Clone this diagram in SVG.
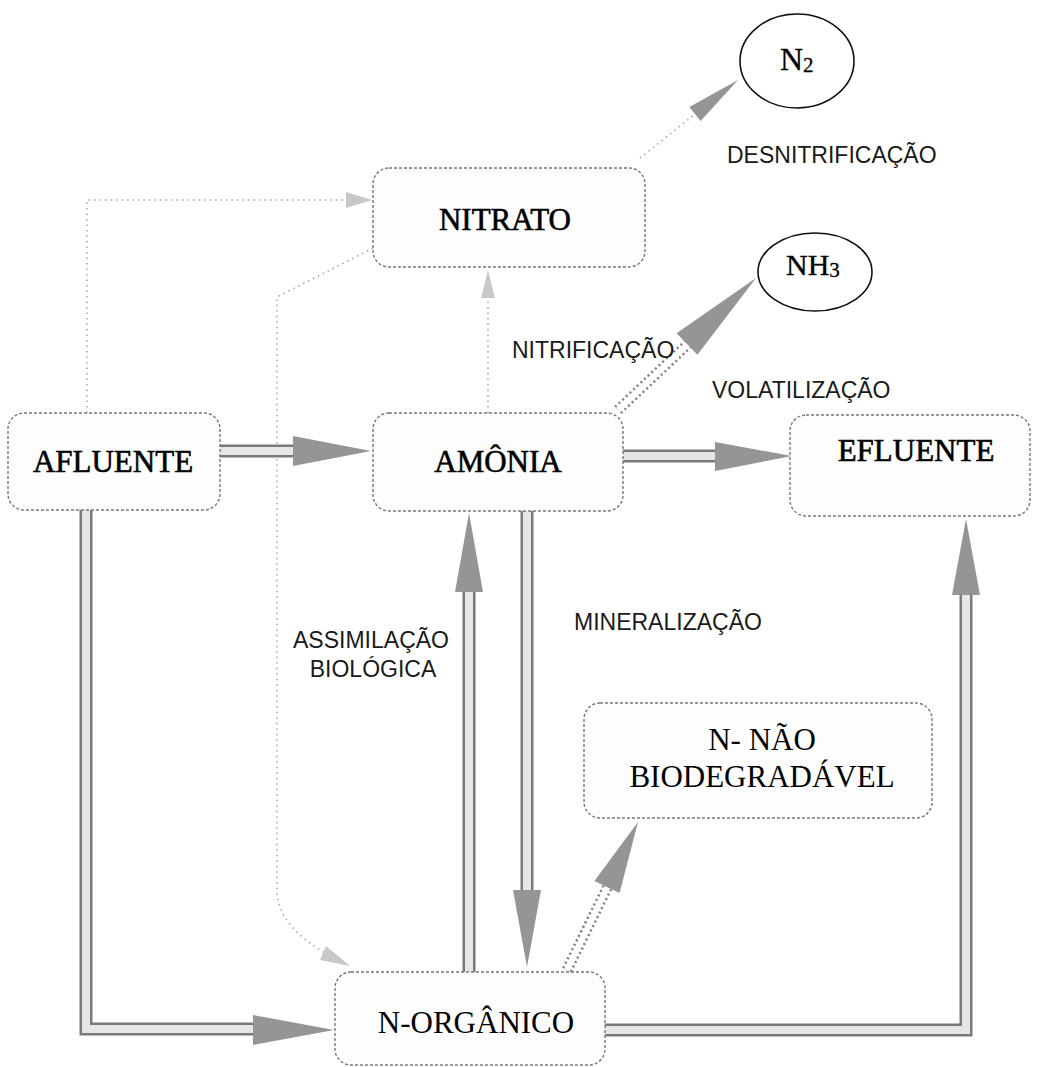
<svg xmlns="http://www.w3.org/2000/svg" width="1037" height="1067" viewBox="0 0 1037 1067">
<style>
.box{fill:#fdfdfd;stroke:#777;stroke-width:1.4;stroke-dasharray:3 2}
.circ{fill:#fff;stroke:#111;stroke-width:1.6}
.big{font-family:"Liberation Serif",serif;font-size:31px;fill:#000;text-anchor:middle}
.heavy{stroke:#000;stroke-width:0.6}
.lbl{font-family:"Liberation Sans",sans-serif;font-size:23px;fill:#1a1a1a}
.ro{fill:none;stroke:#7a7a7a;stroke-width:13}
.ri{fill:none;stroke:#e6e6e6;stroke-width:8}
.dro{fill:none;stroke:#808080;stroke-width:11;stroke-dasharray:2 3}
.dri{fill:none;stroke:#fff;stroke-width:6}
.faint{fill:none;stroke:#aaaaaa;stroke-width:1.6;stroke-dasharray:1.5 4}
.ah{fill:#959595}
.fah{fill:#c8c8c8}
</style>
<g id="connectors">
  <path class="faint" d="M87,413 V200 H350"/>
  <polygon class="fah" points="346,192 372,200 346,208"/>
  <path class="faint" d="M488,413 V285"/>
  <polygon class="fah" points="481,298 488,270 495,298"/>
  <path class="faint" d="M373,248 L277,297 V890 Q277,928 334,958"/>
  <polygon class="fah" points="326,946 350,966 320,960"/>
  <path class="faint" d="M640,158 L695,114"/>
  <polygon class="ah" points="700.6,121 738,80 689.4,107"/>
  <path class="dro" d="M618,410 L688,344"/>
  <path class="dri" d="M618,410 L688,344"/>
  <polygon class="ah" points="697.4,354.8 756,278 676.6,333.2"/>
  <path class="dro" d="M567,970 L608,886"/>
  <path class="dri" d="M567,970 L608,886"/>
  <polygon class="ah" points="619.6,893 638,822 594.4,881"/>
  <path class="ro" d="M220,451 H296"/>
  <path class="ri" d="M220,451 H296"/>
  <polygon class="ah" points="293,436 371,451 293,466"/>
  <path class="ro" d="M623,456 H718"/>
  <path class="ri" d="M623,456 H718"/>
  <polygon class="ah" points="715,442 792,456 715,471"/>
  <path class="ro" d="M86,510 V1029 H256"/>
  <path class="ri" d="M86,510 V1029 H256"/>
  <polygon class="ah" points="253,1015 334,1030 253,1045"/>
  <path class="ro" d="M605,1030 H966 V592"/>
  <path class="ri" d="M605,1030 H966 V592"/>
  <polygon class="ah" points="952,595 966,519 980,595"/>
  <path class="ro" d="M527,511 V893"/>
  <path class="ri" d="M527,511 V893"/>
  <polygon class="ah" points="513,890 527,967 541,890"/>
  <path class="ro" d="M469,972 V589"/>
  <path class="ri" d="M469,972 V589"/>
  <polygon class="ah" points="455,592 469,513 483,592"/>
</g>
<g id="n2">
  <ellipse class="circ" cx="797" cy="61" rx="57" ry="47"/>
  <text font-family="Liberation Serif,serif" font-size="32" x="780" y="70" stroke="#000" stroke-width="0.3">N<tspan font-size="21" dy="2">2</tspan></text>
</g>
<g id="nh3">
  <ellipse class="circ" cx="815" cy="272" rx="57" ry="39"/>
  <text font-family="Liberation Serif,serif" font-size="30" x="786" y="275" stroke="#000" stroke-width="0.3">NH<tspan font-size="21" dy="2">3</tspan></text>
</g>
<g id="nitrato">
  <rect class="box" x="373" y="168" width="272" height="99" rx="16"/>
  <text class="big heavy" x="505" y="230">NITRATO</text>
</g>
<g id="afluente">
  <rect class="box" x="8" y="413" width="212" height="97" rx="16"/>
  <text class="big heavy" x="113" y="472">AFLUENTE</text>
</g>
<g id="amonia">
  <rect class="box" x="373" y="413" width="250" height="98" rx="16"/>
  <text class="big heavy" x="498" y="472">AMÔNIA</text>
</g>
<g id="efluente">
  <rect class="box" x="790" y="415" width="240" height="101" rx="16"/>
  <text class="big heavy" x="916" y="461">EFLUENTE</text>
</g>
<g id="n-nao-biodegradavel">
  <rect class="box" x="584" y="703" width="348" height="115" rx="16"/>
  <text class="big" x="762" y="750">N- NÃO</text>
  <text class="big" x="762" y="787">BIODEGRADÁVEL</text>
</g>
<g id="n-organico">
  <rect class="box" x="335" y="972" width="270" height="93" rx="16"/>
  <text class="big" x="476" y="1033" font-size="32">N-ORGÂNICO</text>
</g>
<g id="labels">
  <text class="lbl" x="727" y="163">DESNITRIFICAÇÃO</text>
  <text class="lbl" x="512" y="358">NITRIFICAÇÃO</text>
  <text class="lbl" x="712" y="398">VOLATILIZAÇÃO</text>
  <text class="lbl" x="574" y="630">MINERALIZAÇÃO</text>
  <text class="lbl" x="371" y="648" text-anchor="middle">ASSIMILAÇÃO</text>
  <text class="lbl" x="373" y="677" text-anchor="middle">BIOLÓGICA</text>
</g>
</svg>
